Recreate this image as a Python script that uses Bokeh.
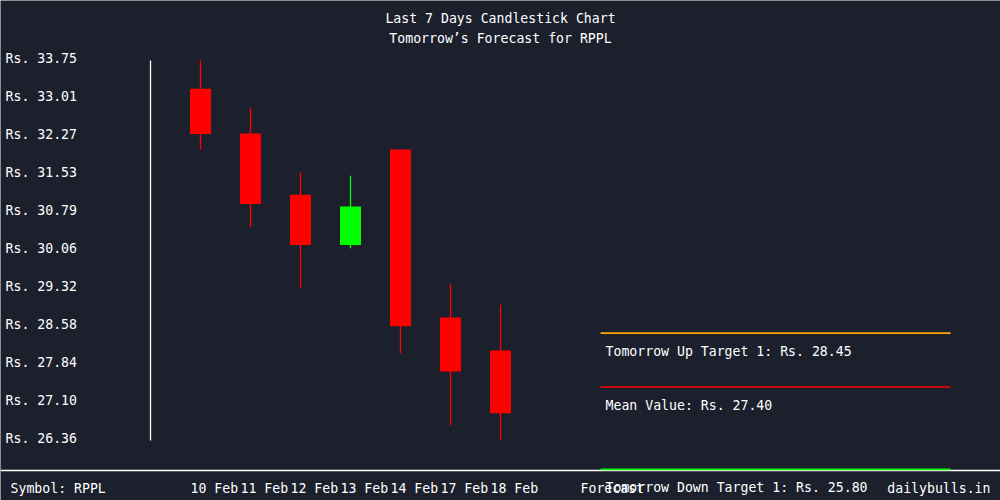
from bokeh.plotting import figure
from bokeh.models import Range1d, ColumnDataSource
from bokeh.core.properties import value
from bokeh.embed import file_html
from bokeh.resources import INLINE

# ---- data ----
dates = ["10 Feb", "11 Feb", "12 Feb", "13 Feb", "14 Feb", "17 Feb", "18 Feb"]
opens = [33.20, 32.33, 31.14, 30.16, 32.02, 28.75, 28.11]
highs = [33.75, 32.84, 31.57, 31.51, 32.02, 29.41, 29.00]
lows = [32.02, 30.51, 29.32, 30.10, 28.06, 26.66, 26.36]
closes = [32.32, 30.96, 30.16, 30.91, 28.58, 27.70, 26.89]
y_ticks = [26.36, 27.10, 27.84, 28.58, 29.32, 30.06, 30.79, 31.53, 32.27, 33.01, 33.75]
y_tick_labels = ["Rs. %.2f" % v for v in y_ticks]
symbol = "RPPL"
up_target = 28.45
mean_value = 27.40
down_target = 25.80

BG = "#1c202d"
FONT = value("DejaVu Sans Mono")
FS = "13.2px"

# vertical mapping: top tick at pixel 60, bottom tick at pixel 440
scale = (max(y_ticks) - min(y_ticks)) / 380.0
y_top = max(y_ticks) + 60 * scale
y_bot = y_top - 500 * scale


def py(pix):
    return y_top - pix * scale


p = figure(width=1000, height=500, output_backend="svg", toolbar_location=None,
           x_range=Range1d(-4, 16), y_range=Range1d(y_bot, y_top),
           x_axis_location=None, y_axis_location=None, min_border=0)
p.background_fill_color = BG
p.border_fill_color = BG
p.outline_line_color = None
p.grid.visible = False

xs = list(range(len(dates)))
colors = ["#00ff00" if c >= o else "#ff0000" for o, c in zip(opens, closes)]
src = ColumnDataSource(dict(x=xs, o=opens, h=highs, l=lows, c=closes,
                            top=[max(o, c) for o, c in zip(opens, closes)],
                            bottom=[min(o, c) for o, c in zip(opens, closes)],
                            color=colors, label=dates))

p.segment(x0="x", y0="l", x1="x", y1="h", color="color", line_width=1.3, source=src)
p.vbar(x="x", top="top", bottom="bottom", width=0.42, fill_color="color",
       line_color=None, source=src)

# left axis line
p.segment(x0=[-1], y0=[min(y_ticks)], x1=[-1], y1=[max(y_ticks)], color="white", line_width=1.3)
# y labels
p.text(x=[-4] * len(y_ticks), y=[v + 2 * scale for v in y_ticks], text=y_tick_labels,
       x_offset=5, text_align="left", text_baseline="middle", text_color="white",
       text_font=FONT, text_font_size=FS)

# bottom line
p.segment(x0=[-4], y0=[py(470)], x1=[16], y1=[py(470)], color="white", line_width=1.3)

# x labels
p.text(x="x", y=py(488), text="label", source=src, x_offset=-10, text_align="left",
       text_baseline="middle", text_color="white", text_font=FONT, text_font_size=FS)
p.text(x=[8], y=[py(488)], text=["Forecast"], x_offset=-20, text_align="left",
       text_baseline="middle", text_color="white", text_font=FONT, text_font_size=FS)
p.text(x=[-4], y=[py(488)], text=["Symbol: " + symbol], x_offset=10, text_align="left",
       text_baseline="middle", text_color="white", text_font=FONT, text_font_size=FS)
p.text(x=[16], y=[py(488)], text=["dailybulls.in"], x_offset=-10, text_align="right",
       text_baseline="middle", text_color="white", text_font=FONT, text_font_size=FS)

# forecast lines
fvals = [up_target, mean_value, down_target]
fcols = ["#ffa500", "#ff0000", "#00ff00"]
ftexts = ["Tomorrow Up Target 1: Rs. %.2f" % up_target,
          "Mean Value: Rs. %.2f" % mean_value,
          "Tomorrow Down Target 1: Rs. %.2f" % down_target]
p.segment(x0=[8] * 3, y0=fvals, x1=[15] * 3, y1=fvals, color=fcols, line_width=1.7)
p.text(x=[8] * 3, y=[v - 18 * scale for v in fvals], text=ftexts, x_offset=5,
       text_align="left", text_baseline="middle", text_color="white",
       text_font=FONT, text_font_size=FS)

# titles
p.text(x=[6, 6], y=[py(18), py(38)],
       text=["Last 7 Days Candlestick Chart", "Tomorrow\u2019s Forecast for " + symbol],
       text_align="center", text_baseline="middle", text_color="white",
       text_font=FONT, text_font_size=FS)

open("out.html", "w").write(file_html(p, INLINE))
